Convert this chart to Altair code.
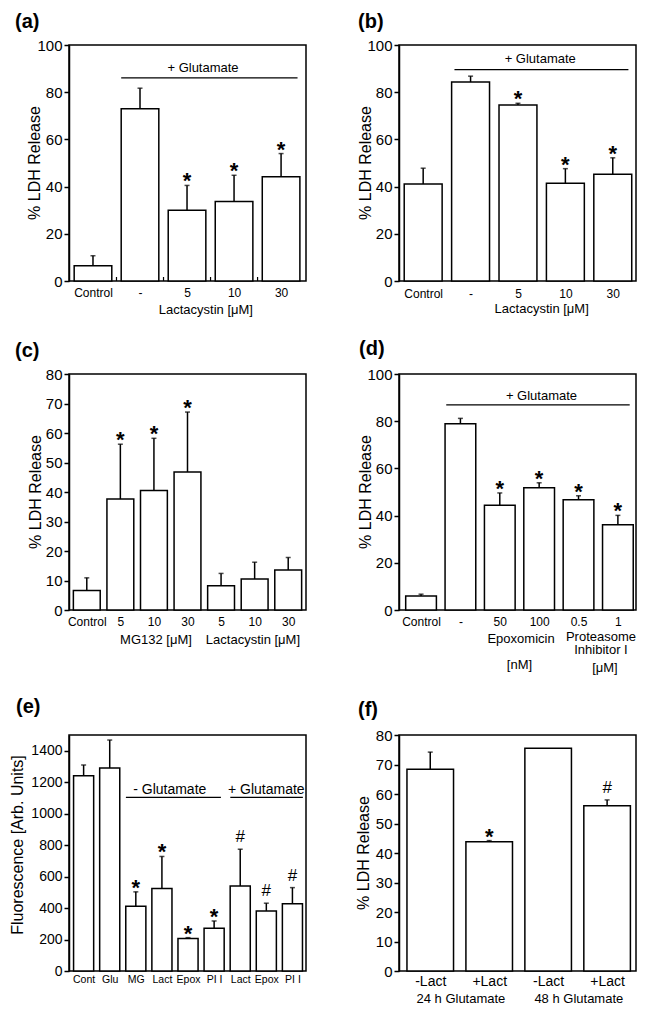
import altair as alt
import pandas as pd

FONT = "Liberation Sans"
W, H = 237, 236

# ---------------- data ----------------
a_labels = ["Control", "-", "5", "10", "30"]
a_vals = [6.5, 73.0, 30.0, 33.7, 44.2]
a_errs = [10.7, 81.7, 40.5, 44.8, 54.0]
a_sigs = ["", "", "*", "*", "*"]

b_labels = ["Control", "-", "5", "10", "30"]
b_vals = [41.1, 84.3, 74.6, 41.4, 45.2]
b_errs = [47.8, 86.8, 75.3, 47.6, 52.2]
b_sigs = ["", "", "*", "*", "*"]

c_labels = ["Control", "5", "10", "30", "5", "10", "30"]
c_vals = [6.6, 37.6, 40.5, 46.8, 8.2, 10.5, 13.6]
c_errs = [10.9, 56.2, 58.2, 67.1, 12.4, 16.2, 17.8]
c_sigs = ["", "*", "*", "*", "", "", ""]

d_labels = ["Control", "-", "50", "100", "0.5", "1"]
d_vals = [5.9, 78.9, 44.4, 51.8, 46.7, 36.1]
d_errs = [6.7, 81.2, 49.6, 53.9, 48.4, 40.1]
d_sigs = ["", "", "*", "*", "*", "*"]

e_labels = ["Cont", "Glu", "MG", "Lact", "Epox", "PI I", "Lact", "Epox", "PI I"]
e_vals = [1241, 1290, 411, 524, 206, 272, 541, 382, 428]
e_errs = [1309, 1468, 503, 728, 212, 318, 774, 431, 530]
e_sigs = ["", "", "*", "*", "*", "*", "#", "#", "#"]

f_labels = ["-Lact", "+Lact", "-Lact", "+Lact"]
f_vals = [68.4, 43.8, 75.5, 56.0]
f_errs = [74.2, 44.2, None, 58.0]
f_sigs = ["", "*", "", "#"]

LDH = "% LDH Release"
FLU = "Fluorescence [Arb. Units]"


def build(tag, tagxy, labels, vals, errs, sigs, ymax, yticks, xdom, barw,
          lfs, lpad, ytitle, ytx, extras=(), brackets=(), btexts=(), bfs=13,
          spacer=None, yfs=15, notches=False, yty=0):
    n = len(labels)
    df = pd.DataFrame({"i": list(range(n)), "v": vals, "e": errs, "s": sigs})
    hw = barw / 2
    xs = alt.Scale(domain=xdom, nice=False, zero=False)
    ys = alt.Scale(domain=[0, ymax], nice=False, zero=True)
    arr = "[" + ",".join("'" + l + "'" for l in labels) + "]"
    xaxis = alt.Axis(values=list(range(n)), labelExpr=arr + "[datum.value]", title=None,
                     domain=False, ticks=False, tickSize=0, grid=False,
                     labelPadding=lpad, labelFontSize=lfs, labelFont=FONT,
                     labelColor="black", labelFlush=False, labelOverlap=False,
                     labelBound=False, labelBaseline="top")
    yaxis = alt.Axis(values=yticks, title=None, grid=False, tickSize=5, tickWidth=1.5,
                     tickColor="black", domainColor="black", domainWidth=1.5, format="d",
                     labelPadding=2, labelFontSize=yfs, labelFont=FONT, labelColor="black",
                     labelOverlap=False, labelBound=False, labelFlush=False)

    def X(f):
        return alt.X(f, scale=xs, axis=xaxis)

    def Y(f):
        return alt.Y(f, scale=ys, axis=yaxis)

    base = alt.Chart(df)
    bars = base.transform_calculate(lo="datum.i-" + str(hw), hi="datum.i+" + str(hw)).mark_bar(
        fill="white", stroke="black", strokeWidth=1.5).encode(
        x=X("lo:Q"), x2="hi:Q", y=Y("v:Q"), y2=alt.datum(0))
    errb = base.transform_filter("isValid(datum.e)").mark_rule(
        color="black", strokeWidth=1.5).encode(x=X("i:Q"), y=Y("v:Q"), y2="e:Q")
    cap = base.transform_filter("isValid(datum.e)").mark_tick(
        color="black", orient="horizontal", size=5, thickness=1.5).encode(
        x=X("i:Q"), y=Y("e:Q"))
    star = base.transform_filter("datum.s=='*'").mark_text(
        text="*", font=FONT, fontSize=22, fontWeight="bold", baseline="alphabetic", dy=3,
        color="black").encode(x=X("i:Q"), y=Y("e:Q"))
    hashm = base.transform_filter("datum.s=='#'").mark_text(
        text="#", font=FONT, fontSize=17, baseline="alphabetic", dy=-7, color="black").encode(
        x=X("i:Q"), y=Y("e:Q"))
    layers = [bars, errb, cap, star, hashm]

    if notches:
        ndf = pd.DataFrame({"m": [k - 0.5 for k in range(1, n)]})
        nl = alt.Chart(ndf).mark_rule(color="black", strokeWidth=1.2).encode(
            x=X("m:Q"), y=alt.value(H), y2=alt.value(H - 4))
        layers.append(nl)

    tagl = alt.Chart(pd.DataFrame({"t": [tag]})).mark_text(
        align="left", baseline="top", font=FONT, fontSize=20, fontWeight="bold",
        color="black").encode(x=alt.value(tagxy[0]), y=alt.value(tagxy[1]), text="t:N")
    ytl = alt.Chart(pd.DataFrame({"t": [ytitle]})).mark_text(
        angle=270, align="center", baseline="middle", font=FONT, fontSize=16,
        color="black").encode(x=alt.value(ytx), y=alt.value(H / 2 + yty), text="t:N")
    layers += [tagl, ytl]

    for (t, xx, dy) in extras:
        exl = alt.Chart(pd.DataFrame({"t": [t], "x": [xx]})).mark_text(
            align="center", baseline="middle", font=FONT, fontSize=13, color="black").encode(
            x=X("x:Q"), y=alt.value(H + dy), text="t:N")
        layers.append(exl)
    if brackets:
        bdf = pd.DataFrame({"lo": [b[0] for b in brackets], "hi": [b[1] for b in brackets],
                            "y": [b[2] for b in brackets]})
        brl = alt.Chart(bdf).mark_rule(color="black", strokeWidth=1.3).encode(
            x=X("lo:Q"), x2="hi:Q", y=Y("y:Q"))
        layers.append(brl)
    if btexts:
        tdf = pd.DataFrame({"t": [b[0] for b in btexts], "x": [b[1] for b in btexts],
                            "y": [b[2] for b in btexts]})
        btl = alt.Chart(tdf).mark_text(align="center", baseline="middle", font=FONT,
                                       fontSize=bfs, color="black").encode(
            x=X("x:Q"), y=Y("y:Q"), text="t:N")
        layers.append(btl)
    if spacer is not None:
        sp = alt.Chart(pd.DataFrame({"t": [0]})).mark_rule(opacity=0).encode(
            x=alt.value(spacer), x2=alt.value(spacer + 1), y=alt.value(0), y2=alt.value(1))
        layers.append(sp)
    return alt.layer(*layers).properties(width=W, height=H)


pa = build("(a)", (-54, -33), a_labels, a_vals, a_errs, a_sigs, 100, [0, 20, 40, 60, 80, 100],
           [-0.51, 4.53], 0.8, 12, 6, LDH, -34,
           extras=[("Lactacystin [μM]", 2.4, 28.5)],
           brackets=[(0.6, 4.35, 86.1)], btexts=[("+ Glutamate", 2.34, 90.2)], spacer=-60,
           notches=True)
pb = build("(b)", (-41, -33), b_labels, b_vals, b_errs, b_sigs, 100, [0, 20, 40, 60, 80, 100],
           [-0.51, 4.49], 0.8, 12, 7, LDH, -33,
           extras=[("Lactacystin [μM]", 2.5, 28)],
           brackets=[(0.66, 4.33, 89.6)], btexts=[("+ Glutamate", 2.47, 94)])
pc = build("(c)", (-54, -33), c_labels, c_vals, c_errs, c_sigs, 80, list(range(0, 81, 10)),
           [-0.53, 6.53], 0.8, 12, 6, LDH, -33,
           extras=[("MG132 [μM]", 2.06, 30), ("Lactacystin [μM]", 4.95, 30)], spacer=-60)
pd_ = build("(d)", (-40, -35), d_labels, d_vals, d_errs, d_sigs, 100, [0, 20, 40, 60, 80, 100],
            [-0.56, 5.46], 0.78, 12, 6, LDH, -33,
            extras=[("Epoxomicin", 2.54, 29), ("Proteasome", 4.57, 27),
                    ("Inhibitor I", 4.57, 40), ("[nM]", 2.5, 55), ("[μM]", 4.67, 58)],
            brackets=[(0.64, 5.3, 86.9)], btexts=[("+ Glutamate", 3.06, 90.8)])
pe = build("(e)", (-53, -38), e_labels, e_vals, e_errs, e_sigs, 1500, list(range(0, 1401, 200)),
           [-0.56, 8.52], 0.77, 10.5, 3, FLU, -51,
           brackets=[(1.62, 5.26, 1103), (5.62, 8.4, 1103)],
           btexts=[("- Glutamate", 3.3, 1150), ("+ Glutamate", 7.0, 1150)], bfs=14,
           spacer=-60, yfs=14, yty=-8)
pf = build("(f)", (-41, -35), f_labels, f_vals, f_errs, f_sigs, 80, list(range(0, 81, 10)),
           [-0.53, 3.49], 0.79, 14, 3, LDH, -35,
           extras=[("24 h Glutamate", 0.52, 28), ("48 h Glutamate", 2.52, 28)])

row1 = alt.hconcat(pa, pb, spacing=93, bounds="flush")
row2 = alt.hconcat(pc, pd_, spacing=93, bounds="flush")
row3 = alt.hconcat(pe, pf, spacing=93, bounds="flush")
chart = alt.vconcat(row1, row2, row3, spacing=20).configure_view(
    stroke="black", strokeWidth=1.5).configure_axis(labelOverlap=False).properties(
    padding={"left": 0, "top": 3, "right": 2, "bottom": 2}, background="white")

chart.save("out.html", embed_options={"renderer": "svg", "actions": False})
